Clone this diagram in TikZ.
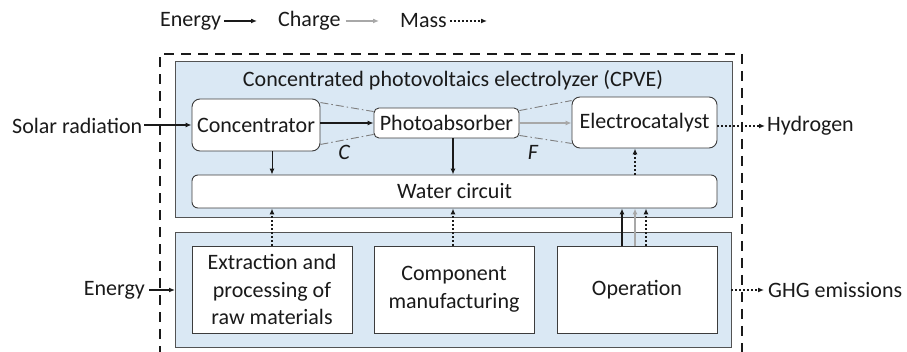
\documentclass[tikz,border=0pt]{standalone}
\usepackage{fontspec}
\setmainfont{Carlito}
\usetikzlibrary{arrows.meta}
\definecolor{boxblue}{HTML}{DAE8F4}
\definecolor{txt}{HTML}{1A1A1A}
\definecolor{chg}{HTML}{A8A8A8}
\definecolor{dd}{HTML}{7F7F7F}
\tikzset{
  lbl/.style={font=\fontsize{22}{27.5}\selectfont, text=txt, inner sep=0pt},
  rbox/.style={draw=txt!85, line width=0.9pt, fill=white, rounded corners=8pt, lbl, align=center},
  sbox/.style={draw=txt!85, line width=0.9pt, fill=white, lbl, align=center},
  bluebox/.style={draw=txt!75, line width=0.9pt, fill=boxblue},
  tip/.style={-{Latex[length=6pt,width=5pt]}},
  energy/.style={tip, line width=1.8pt, draw=txt},
  thinen/.style={tip, line width=1pt, draw=txt},
  charge/.style={tip, line width=1.8pt, draw=chg},
  mass/.style={tip, line width=1.8pt, draw=txt, dash pattern=on 2pt off 2pt},
  ddash/.style={draw=dd, line width=0.9pt, dash pattern=on 8pt off 3pt on 1.5pt off 3pt},
  boundary/.style={draw=txt, line width=2.6pt, dash pattern=on 10pt off 7pt}
}
\begin{document}
\begin{tikzpicture}[x=1pt,y=-1pt]
\useasboundingbox (0,0) rectangle (907,352);
% legend
\node[lbl, anchor=west] (lgE) at (160,21) {Energy};
\coordinate (lgEa) at (257,21);
\draw[energy] (lgE.east) ++(3,0) -- (lgEa);
\node[lbl, anchor=west] (lgC) at (278,21) {Charge};
\coordinate (lgCa) at (379,21);
\draw[charge] (lgC.east) ++(5,0) -- (lgCa);
\node[lbl, anchor=west] (lgM) at (400,21) {Mass};
\coordinate (lgMa) at (487,21);
\draw[mass] (lgM.east) ++(3,0) -- (lgMa);

% blue boxes
\path[bluebox] (175,61) rectangle (732,217);
\path[bluebox] (175,232) rectangle (731,347);
\node[lbl] (title) at (453,80) {Concentrated photovoltaics electrolyzer (CPVE)};

% CPVE components
\node[rbox, minimum width=128pt, minimum height=52pt] (conc) at (256,125) {Concentrator};
\node[rbox, rounded corners=5pt, minimum width=145pt, minimum height=30pt] (photo) at (446.5,123) {Photoabsorber};
\node[rbox, minimum width=145pt, minimum height=51pt] (elec) at (644.5,122.5) {Electrocatalyst};
\node[rbox, rounded corners=6pt, minimum width=525pt, minimum height=33pt] (water) at (454.5,191.5) {Water circuit};

% dash-dot cone lines (yshift is in canvas direction: negative = down)
\draw[ddash] ([yshift=-4pt]conc.north east) -- ([yshift=-4pt]photo.north west);
\draw[ddash] ([yshift=7pt]conc.south east) -- ([yshift=4pt]photo.south west);
\draw[ddash] ([yshift=-3pt]photo.north east) -- ([yshift=-4pt]elec.north west);
\draw[ddash] ([yshift=3pt]photo.south east) -- ([yshift=5pt]elec.south west);
\node[lbl, font=\fontsize{22}{27}\selectfont\itshape] (Clbl) at (344,152) {C};
\node[lbl, font=\fontsize{22}{27}\selectfont\itshape] (Flbl) at (533,152) {F};

% bottom boxes
\node[sbox, minimum width=160pt, minimum height=87pt] (extr) at (272,289.5) {Extraction and\\processing of\\raw materials};
\node[sbox, minimum width=160pt, minimum height=87pt] (comp) at (454,289.5) {Component\\manufacturing};
\node[sbox, minimum width=160pt, minimum height=87pt] (oper) at (637,289.5) {Operation};

% boundary
\draw[boundary] (160,356) -- (160,54) -- (742,54) -- (742,356);

% external labels
\node[lbl, anchor=west] (solar) at (12,126) {Solar radiation};
\node[lbl, anchor=west] (hyd) at (767,126) {Hydrogen};
\node[lbl, anchor=east] (en) at (145,290) {Energy};
\node[lbl, anchor=west] (ghg) at (768,290) {GHG emissions};

% flows
\draw[energy] ([xshift=2pt]solar.east |- conc.west) -- (conc.west);
\draw[energy] (conc.east |- photo.west) -- (photo.west);
\draw[charge] (photo.east) -- (elec.west |- photo.east);
\draw[mass] (elec.east |- hyd.west) -- ([xshift=-2pt]hyd.west);
\draw[thinen] ([xshift=16pt]conc.south) -- ([xshift=16pt]conc.south |- water.north);
\draw[energy] ([xshift=6.5pt]photo.south) -- ([xshift=6.5pt]photo.south |- water.north);
\draw[mass] ([xshift=-9.5pt]elec.south |- water.north) -- ([xshift=-9.5pt]elec.south);

\draw[mass] (extr.north) -- (extr.north |- water.south);
\draw[mass] ([xshift=-1pt]comp.north) -- ([xshift=-1pt]comp.north |- water.south);
\draw[energy] ([xshift=-15pt]oper.north) -- ([xshift=-15pt]oper.north |- water.south);
\draw[charge] ([xshift=-2pt]oper.north) -- ([xshift=-2pt]oper.north |- water.south);
\draw[mass] ([xshift=9pt]oper.north) -- ([xshift=9pt]oper.north |- water.south);

\coordinate (bbL) at (175,290);
\coordinate (bbR) at (731,290);
\draw[energy] ([xshift=4pt]en.east) -- (bbL);
\draw[mass] (bbR) -- ([xshift=-4pt]ghg.west);
\end{tikzpicture}
\end{document}
